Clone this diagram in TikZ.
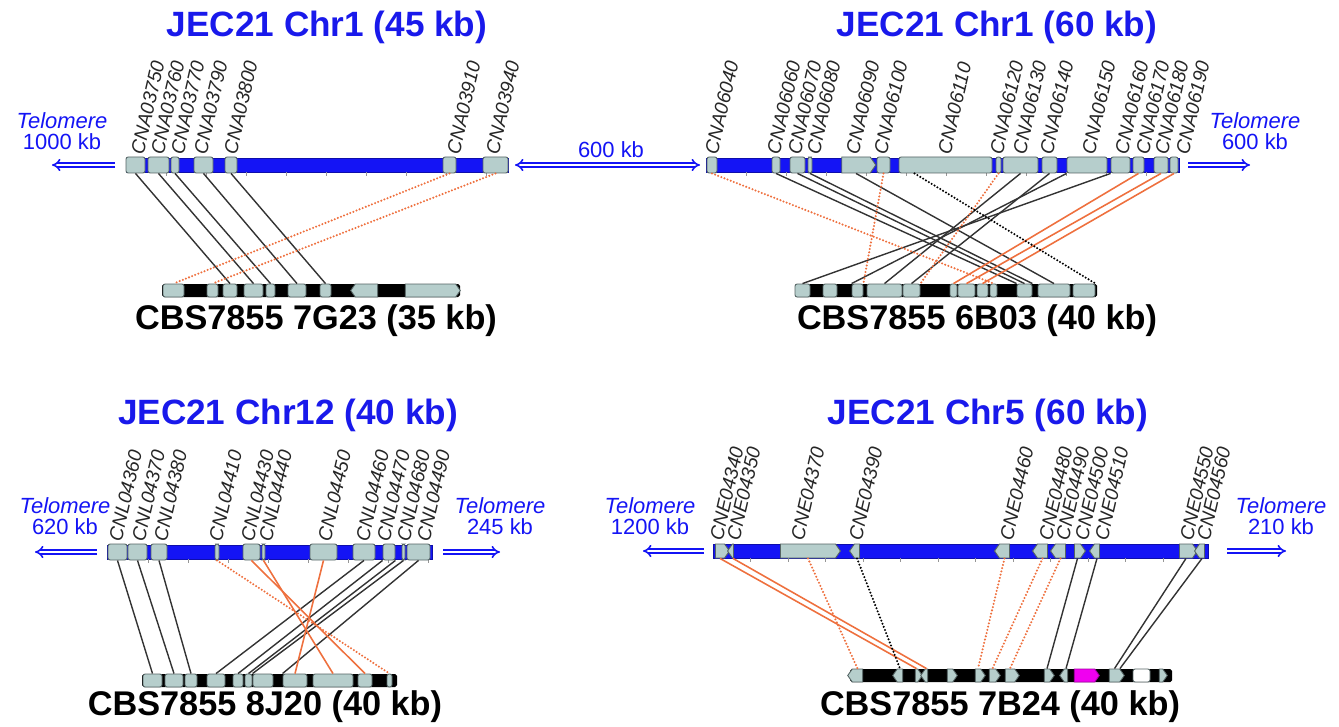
\documentclass[tikz,border=0pt]{standalone}
\usepackage{fontspec}
\setmainfont{Liberation Sans}
\usetikzlibrary{arrows.meta, shapes.symbols, calc}
\definecolor{chrBlue}{RGB}{20, 20, 245}
\definecolor{titleBlue}{RGB}{25, 25, 235}
\definecolor{geneFill}{RGB}{182, 206, 204}
\definecolor{geneEdge}{RGB}{85, 100, 100}
\definecolor{synOrange}{RGB}{238, 112, 62}
\definecolor{tickGray}{RGB}{150, 150, 150}
\definecolor{hitMagenta}{RGB}{240, 0, 240}

\tikzset{
  chrbar/.style={fill=chrBlue, draw=chrBlue!70!black, line width=0.3pt},
  contig/.style={fill=black, rounded corners=1pt},
  tick/.style={tickGray, line width=0.4pt},
  gene/.style={draw=geneEdge, fill=geneFill, line width=0.5pt, inner sep=0pt,
    minimum height=3.2mm, rounded corners=1.2pt},
  cgene/.style={gene, minimum height=2.6mm},
  agene/.style={gene, shape=signal, signal pointer angle=110, rounded corners=0pt},
  glabel/.style={rotate=77, anchor=west, inner sep=0pt, text=black!85,
    font=\fontsize{11}{11}\selectfont\itshape},
  title/.style={font=\fontsize{20}{24}\selectfont\bfseries, text=titleBlue},
  contiglabel/.style={font=\fontsize{19.5}{24}\selectfont\bfseries},
  telo/.style={font=\fontsize{12.5}{12}\selectfont, text=chrBlue, align=center},
  teloarrow/.style={chrBlue, double, double distance=1.4pt, line width=0.9pt, -{Implies}},
  ortho/.style={black!80, line width=0.8pt},
  orthodot/.style={black, line width=1.3pt, line cap=round, dash pattern=on 0pt off 1.9pt},
  para/.style={synOrange, line width=0.9pt},
  paradot/.style={synOrange, line width=1.3pt, line cap=round, dash pattern=on 0pt off 1.9pt}
}

\begin{document}
\begin{tikzpicture}[x=0.2mm, y=-0.2mm]
  \useasboundingbox (0,0) rectangle (1339,727);

  % ---- top left: Chr1 45 kb vs 7G23 ----
  \node[title] (t1) at (327,27) {JEC21 Chr1 (45 kb)};
  \draw[chrbar] (126,158) rectangle (508,172);
  \foreach \t in {166,206,...,486} \draw[tick] (\t,172) -- ++(0,4);
  \foreach \nm/\sx/\ex in {a1/126/145, a2/148/169, a3/171/179, a4/194/213,
      a5/225/237, a6/443/456, a7/483/508}
    \node[gene, minimum width={(\ex-\sx)*0.2mm}] (\nm) at ({(\sx+\ex)/2},165) {};
  \foreach \lx/\txt in {137/CNA03750, 157/CNA03760, 177/CNA03770, 200/CNA03790,
      230/CNA03800, 453/CNA03910, 492/CNA03940}
    \node[glabel] (l\txt) at (\lx,154) {\txt};
  \node[telo] (tel1) at (62,131) {\itshape Telomere\\1000 kb};
  \coordinate (tl1a) at (115,165);
  \coordinate (tl1b) at (52,165);
  \draw[teloarrow] (tl1a) -- (tl1b);

  \fill[contig] (162,284) rectangle (460,297);
  \foreach \nm/\sx/\ex in {k1/163/184, k2/207/218, k3/223/237, k4/244/263,
      k5/266/275, k6/288/306, k7/320/331}
    \node[cgene, minimum width={(\ex-\sx)*0.2mm}] (\nm) at ({(\sx+\ex)/2},290.5) {};
  \node[agene, signal to=west, minimum height=2.6mm, minimum width=5.4mm] (k8) at (366.5,290.5) {};
  \node[agene, signal to=east, minimum height=2.6mm, minimum width=11mm] (k9) at (430.5,290.5) {};
  \node[contiglabel] (c1) at (316,321) {CBS7855 7G23 (35 kb)};

  \draw[ortho] (a1.south) -- (k3.north);
  \draw[ortho] (a2.south) -- (k4.north);
  \draw[ortho] (a3.south) -- (k5.north);
  \draw[ortho] (a4.south) -- (k6.north);
  \draw[ortho] (a5.south) -- (k7.north);
  \draw[paradot] (a6.south) -- (k1.north);
  \draw[paradot] (a7.south) -- (k2.north);

  % gap between the two Chr1 pieces
  \coordinate (gapa) at (515,165);
  \coordinate (gapb) at (700,165);
  \draw[teloarrow, {Implies}-{Implies}] (gapa) -- (gapb);
  \node[telo] (gap) at (611,150) {600 kb};

  % ---- top right: Chr1 60 kb vs 6B03 ----
  \node[title] (t2) at (997,27) {JEC21 Chr1 (60 kb)};
  \draw[chrbar] (706,158) rectangle (1179,172);
  \foreach \t in {746,786,...,1170} \draw[tick] (\t,172) -- ++(0,4);
  \foreach \nm/\sx/\ex in {h1/707/717, h2/772/780, h3/790/805, h4/808/812,
      h6/877/890, h7/899/992, h8/996/1001, h9/1003/1038, h10/1042/1057,
      h11/1067/1107, h12/1111/1130, h13/1133/1144, h14/1154/1168, h15/1170/1178}
    \node[gene, minimum width={(\ex-\sx)*0.2mm}] (\nm) at ({(\sx+\ex)/2},165) {};
  \node[agene, signal to=east, minimum width=6.8mm] (h5) at (856,165) {};
  \foreach \lx/\txt in {711/CNA06040, 773/CNA06060, 794/CNA06070, 813/CNA06080,
      852/CNA06090, 880/CNA06100, 944/CNA06110, 996/CNA06120, 1019/CNA06130,
      1046/CNA06140, 1088/CNA06150, 1121/CNA06160, 1142/CNA06170,
      1161/CNA06180, 1182/CNA06190}
    \node[glabel] (l\txt) at (\lx,154) {\txt};
  \node[telo] (tel2) at (1255,131) {\itshape Telomere\\600 kb};
  \coordinate (tl2a) at (1188,165);
  \coordinate (tl2b) at (1250,165);
  \draw[teloarrow] (tl2a) -- (tl2b);

  \fill[contig] (795,284) rectangle (1097,297);
  \foreach \nm/\sx/\ex in {m1/795/810, m2/823/837, m3/852/863, m4/867/902,
      m5/903/920, m6/950/957, m7/958/975, m8/977/988, m9/990/997,
      m10/1017/1032, m11/1038/1070, m12/1073/1095}
    \node[cgene, minimum width={(\ex-\sx)*0.2mm}] (\nm) at ({(\sx+\ex)/2},290.5) {};
  \node[contiglabel] (c2) at (977,321) {CBS7855 6B03 (40 kb)};

  \draw[ortho] (h2.south) -- (m10.north west);
  \draw[ortho] (h3.south) -- (m10.north);
  \draw[ortho] (h4.south) -- (m10.north east);
  \draw[ortho] (h5.south) -- (m11.north);
  \draw[ortho] (h9.south) -- (m4.north);
  \draw[ortho] (h10.south) -- (m5.north);
  \draw[ortho] (h11.south west) -- (m3.north west);
  \draw[ortho] (h12.south west) -- (m1.north);
  \draw[para] (h13.south) -- (m6.north);
  \draw[para] (h14.south) -- (m7.north);
  \draw[para] (h15.south) -- (m8.north);
  \draw[paradot] (h1.south) -- (m9.north);
  \draw[paradot] (h6.south) -- (m3.north east);
  \draw[paradot] (h8.south) -- (m5.north east);
  \draw[orthodot] ($(h7.south west)+(16,0)$) -- (m12.north east);

  % ---- bottom left: Chr12 vs 8J20 ----
  \node[title] (t3) at (288,415) {JEC21 Chr12 (40 kb)};
  \draw[chrbar] (107,545) rectangle (432,559);
  \foreach \t in {148,188,...,428} \draw[tick] (\t,559) -- ++(0,4);
  \foreach \nm/\sx/\ex in {p1/108/127, p2/128/147, p3/151/167, p4/215/219,
      p5/243/260, p6/262/265, p7/310/337, p8/353/375, p9/383/395,
      p10/402/405, p11/407/430}
    \node[gene, minimum width={(\ex-\sx)*0.2mm}] (\nm) at ({(\sx+\ex)/2},552) {};
  \foreach \lx/\txt in {115/CNL04360, 138/CNL04370, 160/CNL04380, 215/CNL04410,
      247/CNL04430, 265/CNL04440, 324/CNL04450, 362/CNL04460, 383/CNL04470,
      403/CNL04680, 423/CNL04490}
    \node[glabel] (l\txt) at (\lx,541) {\txt};
  \node[telo] (tel3) at (65,516) {\itshape Telomere\\620 kb};
  \node[telo] (tel4) at (500,516) {\itshape Telomere\\245 kb};
  \coordinate (tl3a) at (97,552);
  \coordinate (tl3b) at (35,552);
  \coordinate (tl4a) at (443,552);
  \coordinate (tl4b) at (500,552);
  \draw[teloarrow] (tl3a) -- (tl3b);
  \draw[teloarrow] (tl4a) -- (tl4b);

  \fill[contig] (142,674) rectangle (397,687);
  \foreach \nm/\sx/\ex in {q1/143/162, q2/165/183, q3/185/197, q4/207/225,
      q5/233/243, q6/245/252, q7/253/273, q8/283/307, q9/313/353,
      q10/358/372, q11/387/392}
    \node[cgene, minimum width={(\ex-\sx)*0.2mm}] (\nm) at ({(\sx+\ex)/2},680.5) {};
  \node[contiglabel] (c3) at (265,707) {CBS7855 8J20 (40 kb)};

  \draw[ortho] (p1.south) -- (q1.north);
  \draw[ortho] (p2.south) -- (q2.north);
  \draw[ortho] (p3.south) -- (q3.north);
  \draw[ortho] (p8.south) -- (q4.north);
  \draw[ortho] (p9.south west) -- (q5.north);
  \draw[ortho] (p9.south east) -- (q6.north);
  \draw[ortho] (p10.south) -- (q7.north west);
  \draw[ortho] (p11.south) -- (q8.north west);
  \draw[para] (p5.south) -- (q10.north);
  \draw[para] (p6.south) -- (q9.north);
  \draw[para] (p7.south) -- (q8.north);
  \draw[paradot] (p4.south) -- (q11.north);

  % ---- bottom right: Chr5 vs 7B24 ----
  \node[title] (t4) at (988,415) {JEC21 Chr5 (60 kb)};
  \draw[chrbar] (713,544) rectangle (1208,558);
  \foreach \t in {750.5,788,...,1200} \draw[tick] (\t,558) -- ++(0,4);
  \foreach \nm/\sx/\ex/\dir in {r1/713/727/east, r2/730/736/west, r3/778/838/east,
      r4/852/862/west, r5/997/1012/west, r6/1035/1050/west, r7/1053/1068/west,
      r8/1072/1083/east, r9/1092/1102/west, r10/1177/1195/east, r11/1197/1207/west}
    \node[agene, signal to=\dir, minimum height=2.8mm, minimum width={(\ex-\sx)*0.2mm}]
      (\nm) at ({(\sx+\ex)/2},551) {};
  \foreach \lx/\txt in {716/CNE04340, 733/CNE04350, 797/CNE04370, 855/CNE04390,
      1006/CNE04460, 1045/CNE04480, 1062/CNE04490, 1081/CNE04500,
      1101/CNE04510, 1186/CNE04550, 1203/CNE04560}
    \node[glabel] (l\txt) at (\lx,540) {\txt};
  \node[telo] (tel5) at (650,516) {\itshape Telomere\\1200 kb};
  \node[telo] (tel6) at (1281,516) {\itshape Telomere\\210 kb};
  \coordinate (tl5a) at (704,551);
  \coordinate (tl5b) at (643,551);
  \coordinate (tl6a) at (1227,551);
  \coordinate (tl6b) at (1286,551);
  \draw[teloarrow] (tl5a) -- (tl5b);
  \draw[teloarrow] (tl6a) -- (tl6b);

  \fill[contig] (850,669) rectangle (1172,682);
  \foreach \nm/\sx/\ex/\dir in {s1/850/865/west, s2/895/905/west, s3/913/920/east,
      s4/923/930/west, s5/945/955/east, s6/973/983/east, s7/987/998/east,
      s8/1003/1017/east, s9/1042/1052/east, s10/1062/1070/west,
      s12/1107/1122/east, s14/1157/1165/east}
    \node[agene, signal to=\dir, minimum height=2.6mm, minimum width={(\ex-\sx)*0.2mm}]
      (\nm) at ({(\sx+\ex)/2},675.5) {};
  \node[agene, signal to=east, fill=hitMagenta, draw=hitMagenta!70!black,
    minimum height=2.6mm, minimum width=5mm] (s11) at (1084.5,675.5) {};
  \node[cgene, fill=white, minimum width=3.4mm] (s13) at (1141.5,675.5) {};
  \node[contiglabel] (c4) at (1000,707) {CBS7855 7B24 (40 kb)};

  \draw[para] (r1.south) -- (s3.north);
  \draw[para] (r2.south) -- (s4.north);
  \draw[paradot] (r3.south) -- (s1.north);
  \draw[paradot] (r5.south) -- (s6.north);
  \draw[paradot] (r6.south) -- (s7.north);
  \draw[paradot] (r7.south) -- (s8.north);
  \draw[orthodot] (r4.south) -- (s2.north);
  \draw[ortho] (r8.south) -- (s9.north);
  \draw[ortho] (r9.south) -- (s10.north);
  \draw[ortho] (r10.south) -- (s12.north);
  \draw[ortho] (r11.south) -- (s12.north east);
\end{tikzpicture}
\end{document}
